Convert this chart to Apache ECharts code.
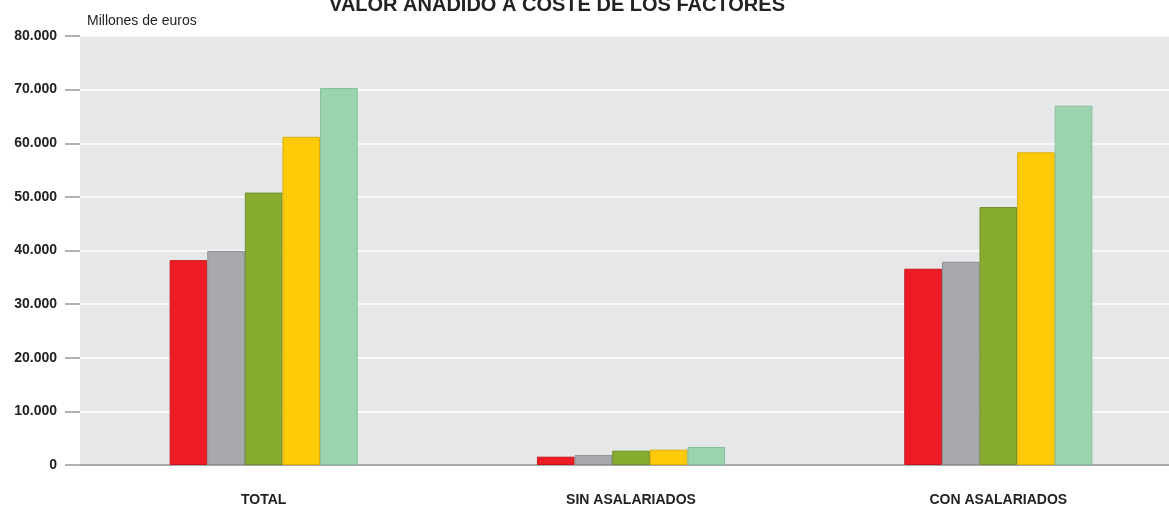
<!DOCTYPE html>
<html>
<head>
<meta charset="utf-8">
<title>Valor añadido a coste de los factores</title>
<script src="https://cdn.jsdelivr.net/npm/echarts@6/dist/echarts.min.js"></script>
<style>
  html, body { margin: 0; padding: 0; background: #fff; overflow: hidden; }
  #marco { width: 1169px; height: 508px; overflow: hidden; }
  /* el area de trazado sigue mas alla del borde derecho de la imagen */
  #chart { width: 1182px; height: 508px; }
</style>
</head>
<body>
<div id="marco"><div id="chart"></div></div>
<script>
// categorias del eje x
const categorias = ['TOTAL', 'SIN ASALARIADOS', 'CON ASALARIADOS'];

// valores (millones de euros), una serie por color
const serieRoja = [38200, 1550, 36600];
const serieGris = [39900, 1870, 37900];
const serieVerde = [50800, 2670, 48100];
const serieAmarilla = [61200, 2850, 58300];
const serieMenta = [70300, 3360, 67000];

const colores = ['#ED1C24', '#A7A9AC', '#86AC30', '#FFCB08', '#9BD3AE'];
const bordes = ['#c8161d', '#8d8f92', '#6e8f26', '#dcae00', '#86bf99'];

const series = [serieRoja, serieGris, serieVerde, serieAmarilla, serieMenta].map((datos, i) => ({
    type: 'bar',
    data: datos,
    barGap: '0%',
    barCategoryGap: '48.8%',
    itemStyle: { color: colores[i], borderColor: bordes[i], borderWidth: 1 },
    emphasis: { disabled: true }
}));

const chart = echarts.init(document.getElementById('chart'));
chart.setOption({
    animation: false,
    title: {
        text: 'VALOR AÑADIDO A COSTE DE LOS FACTORES',
        left: 552,
        textAlign: 'center',
        top: -10,
        textStyle: { fontFamily: 'Liberation Sans', fontWeight: 'bold', fontSize: 20, color: '#222' }
    },
    graphic: [{
        type: 'text',
        left: 87,
        top: 14,
        style: { text: 'Millones de euros', font: '14px "Liberation Sans"', fill: '#222' }
    }],
    grid: {
        left: 80, top: 36, bottom: 43, right: 0,
        show: true, backgroundColor: '#E6E7E8', borderWidth: 0
    },
    xAxis: {
        type: 'category',
        data: categorias,
        axisLine: { lineStyle: { color: '#8c8c8c', width: 1.5 } },
        axisTick: { show: false },
        axisLabel: {
            margin: 28,
            fontFamily: 'Liberation Sans', fontWeight: 'bold', fontSize: 14, color: '#222'
        }
    },
    yAxis: {
        type: 'value',
        min: 0,
        max: 80000,
        interval: 10000,
        axisLine: { show: false },
        axisTick: { show: true, length: 15, lineStyle: { color: '#999', width: 1.5 } },
        splitLine: { lineStyle: { color: '#ffffff', width: 1.5 } },
        axisLabel: {
            margin: 23,
            fontFamily: 'Liberation Sans', fontWeight: 'bold', fontSize: 14, color: '#222',
            formatter: v => v === 0 ? '0' : v.toLocaleString('de-DE')
        }
    },
    series: series
});
</script>
</body>
</html>
